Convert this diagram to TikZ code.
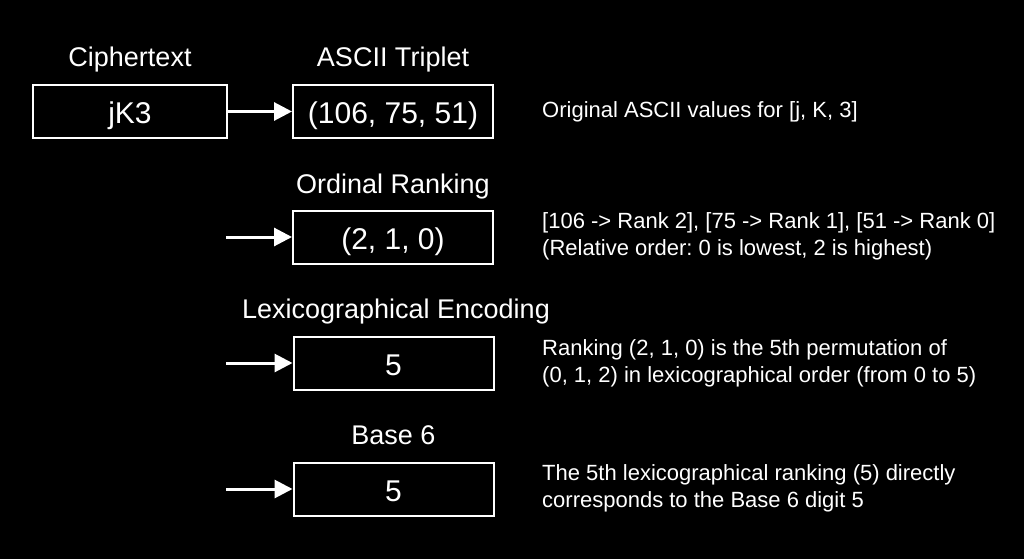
\documentclass[tikz,border=0pt]{standalone}
\usepackage{fontspec}
\setmainfont{Liberation Sans}
\usetikzlibrary{arrows.meta}
\frenchspacing
\begin{document}
\begin{tikzpicture}[x=1pt,y=-1pt,
  box/.style={draw=white,line width=2pt,fill=black,text=white,minimum width=200pt,minimum height=53pt,inner sep=0pt,text height=25pt,text depth=0pt,font=\fontsize{30}{36}\selectfont},
  lbl/.style={text=white,anchor=base,inner sep=0pt,font=\fontsize{27}{32}\selectfont},
  note/.style={text=white,anchor=west,align=left,inner sep=0pt,font=\fontsize{22}{27}\selectfont},
  flow/.style={draw=white,line width=3pt,-{Triangle[length=18pt,width=18pt]}}]
\fill[black] (0,0) rectangle (1024,559);
\useasboundingbox (0,0) rectangle (1024,559);

\node[box,minimum width=194pt] (c1) at (130,111.5) {jK3};
\node[box] (a1) at (393,111.5) {(106, 75, 51)};
\node[box] (a2) at (393,237) {(2, 1, 0)};
\node[box] (a3) at (393.5,363) {5};
\node[box] (a4) at (393.5,489) {5};

\node[lbl] (l0) at (130,67) {Ciphertext};
\node[lbl] (l1) at (393,67) {ASCII Triplet};
\node[lbl] (l2) at (393,193) {Ordinal Ranking};
\node[lbl] (l3) at (396,318) {Lexicographical Encoding};
\node[lbl] (l4) at (393.5,444) {Base 6};

\coordinate (s2) at (226,237);
\coordinate (s3) at (226,363);
\coordinate (s4) at (226,489);

\draw[flow] (c1.east) -- (a1.west);
\draw[flow] (s2) -- (a2.west);
\draw[flow] (s3) -- (a3.west);
\draw[flow] (s4) -- (a4.west);

\node[note] (n1) at (542,111.5) {Original ASCII values for [j, K, 3]};
\node[note] (n2) at (542,236.5) {[106 -> Rank 2], [75 -> Rank 1], [51 -> Rank 0]\\(Relative order: 0 is lowest, 2 is highest)};
\node[note] (n3) at (542,363) {Ranking (2, 1, 0) is the 5th permutation of\\(0, 1, 2) in lexicographical order (from 0 to 5)};
\node[note] (n4) at (542,488) {The 5th lexicographical ranking (5) directly\\corresponds to the Base 6 digit 5};
\end{tikzpicture}
\end{document}
